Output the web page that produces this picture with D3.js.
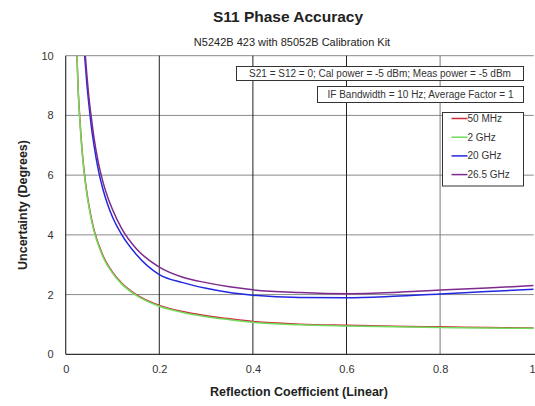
<!DOCTYPE html>
<html><head><meta charset="utf-8">
<script src="https://cdn.jsdelivr.net/npm/d3@7"></script>
<style>
body{margin:0;background:#fff;}
svg{display:block;font-family:"Liberation Sans",Arial,sans-serif;}
</style></head>
<body><svg id="c" width="535" height="406"></svg>
<script>
const title = "S11 Phase Accuracy";
const subtitle = "N5242B 423 with 85052B Calibration Kit";
const xLabel = "Reflection Coefficient (Linear)";
const yLabel = "Uncertainty (Degrees)";
const note1 = "S21 = S12 = 0; Cal power = -5 dBm; Meas power = -5 dBm";
const note2 = "IF Bandwidth = 10 Hz; Average Factor = 1";
const xTicks = [0, 0.2, 0.4, 0.6, 0.8, 1];
const xTickLabels = ["0", "0.2", "0.4", "0.6", "0.8", "1"];
const yTicks = [0, 2, 4, 6, 8, 10];
const yTickLabels = ["0", "2", "4", "6", "8", "10"];
const seriesNames = ["50 MHz", "2 GHz", "20 GHz", "26.5 GHz"];
const seriesColors = ["#d2283c", "#6fdc5a", "#2228e0", "#7d2a8c"];

const xLow = [0.024, 0.027, 0.03, 0.035, 0.04, 0.05, 0.06, 0.07, 0.08, 0.1, 0.12, 0.15, 0.2, 0.25, 0.3, 0.35, 0.4, 0.5, 0.6, 0.7, 0.8, 0.9, 1.0];
const mhz50 = [10.0, 8.75, 7.95, 6.85, 6.05, 4.95, 4.2, 3.69, 3.29, 2.75, 2.38, 2.01, 1.64, 1.43, 1.29, 1.19, 1.1, 1.01, 0.97, 0.94, 0.92, 0.9, 0.88];
const ghz2  = [10.0, 8.7, 7.9, 6.8, 6.0, 4.9, 4.15, 3.65, 3.25, 2.72, 2.35, 1.98, 1.61, 1.4, 1.26, 1.16, 1.07, 0.99, 0.95, 0.92, 0.9, 0.88, 0.87];
const xHigh = [0.0405, 0.045, 0.05, 0.055, 0.06, 0.07, 0.08, 0.09, 0.1, 0.12, 0.15, 0.2, 0.25, 0.3, 0.35, 0.4, 0.5, 0.6, 0.7, 0.8, 0.9, 1.0];
const ghz20 = [10.0, 9.1, 8.3, 7.6, 7.05, 6.15, 5.5, 5.0, 4.6, 4.0, 3.36, 2.67, 2.4, 2.21, 2.07, 1.98, 1.9, 1.89, 1.94, 2.02, 2.1, 2.18];
const xHigh2 = [0.042, 0.045, 0.05, 0.055, 0.06, 0.07, 0.08, 0.09, 0.1, 0.12, 0.15, 0.2, 0.25, 0.3, 0.35, 0.4, 0.5, 0.6, 0.7, 0.8, 0.9, 1.0];
const ghz265 = [10.0, 9.4, 8.55, 7.9, 7.3, 6.4, 5.75, 5.25, 4.85, 4.2, 3.55, 2.92, 2.58, 2.4, 2.26, 2.16, 2.07, 2.03, 2.07, 2.15, 2.22, 2.3];

const series = [
  {name: seriesNames[0], color: seriesColors[0], xs: xLow, ys: mhz50},
  {name: seriesNames[1], color: seriesColors[1], xs: xLow, ys: ghz2},
  {name: seriesNames[2], color: seriesColors[2], xs: xHigh, ys: ghz20},
  {name: seriesNames[3], color: seriesColors[3], xs: xHigh2, ys: ghz265}
];

const svg = d3.select("#c");
const L = 65.7, R = 533.7, T = 55.7, B = 354.3;
const x = d3.scaleLinear().domain([0, 1]).range([L, R]);
const y = d3.scaleLinear().domain([0, 10]).range([B, T]);

svg.append("defs").append("clipPath").attr("id", "clip")
  .append("rect").attr("x", L).attr("y", T).attr("width", R - L).attr("height", B - T);

// horizontal grid
svg.append("g").selectAll("line").data(yTicks.filter(d => d > 0)).join("line")
  .attr("x1", L).attr("x2", R).attr("y1", d => y(d)).attr("y2", d => y(d))
  .attr("stroke", "#8a8a8a").attr("stroke-width", 1);
// vertical grid
svg.append("g").selectAll("line").data(xTicks.filter(d => d > 0 && d < 1)).join("line")
  .attr("x1", d => x(d)).attr("x2", d => x(d)).attr("y1", T).attr("y2", B)
  .attr("stroke", d => d > 0.7 ? "#7a7a7a" : "#222").attr("stroke-width", 1);

// axes lines
svg.append("line").attr("x1", L).attr("x2", L).attr("y1", T).attr("y2", B).attr("stroke", "#333").attr("stroke-width", 1.2);
svg.append("line").attr("x1", L).attr("x2", R + 2).attr("y1", B).attr("y2", B).attr("stroke", "#333").attr("stroke-width", 1.2);

// axes via d3
const xAxis = d3.axisBottom(x).tickValues(xTicks).tickFormat((d, i) => xTickLabels[i]).tickSize(0).tickPadding(11);
const gx = svg.append("g").attr("transform", `translate(0,${B})`).call(xAxis);
gx.select(".domain").remove();
gx.selectAll("text").attr("font-size", 11).attr("fill", "#333").attr("font-family", "Liberation Sans, Arial, sans-serif");
gx.selectAll(".tick").filter(d => d === 1).select("text").attr("text-anchor", "end").attr("dx", 1.5);

const yAxis = d3.axisLeft(y).tickValues(yTicks).tickFormat((d, i) => yTickLabels[i]).tickSize(0).tickPadding(12);
const gy = svg.append("g").attr("transform", `translate(${L},0)`).call(yAxis);
gy.select(".domain").remove();
gy.selectAll("text").attr("font-size", 11).attr("fill", "#333").attr("font-family", "Liberation Sans, Arial, sans-serif");

// curves
const line = d3.line().x(d => x(d[0])).y(d => y(d[1])).curve(d3.curveMonotoneX);
const gc = svg.append("g").attr("clip-path", "url(#clip)");
[0, 1, 2, 3].forEach(i => {
  const s = series[i];
  gc.append("path").datum(s.xs.map((v, k) => [v, s.ys[k]]))
    .attr("d", line).attr("fill", "none").attr("stroke", s.color).attr("stroke-width", 1.5);
});

// titles
svg.append("text").attr("x", 288).attr("y", 22).attr("text-anchor", "middle")
  .attr("font-size", 15.5).attr("font-weight", "bold").attr("fill", "#222").text(title);
svg.append("text").attr("x", 292).attr("y", 46).attr("text-anchor", "middle")
  .attr("font-size", 11).attr("fill", "#222").text(subtitle);
svg.append("text").attr("x", 299).attr("y", 396).attr("text-anchor", "middle")
  .attr("font-size", 12.5).attr("font-weight", "bold").attr("fill", "#222").text(xLabel);
svg.append("text").attr("transform", "translate(27,205) rotate(-90)").attr("text-anchor", "middle")
  .attr("font-size", 12.5).attr("font-weight", "bold").attr("fill", "#222").text(yLabel);

// note boxes
function box(x0, y0, x1, y1, txt) {
  svg.append("rect").attr("x", x0).attr("y", y0).attr("width", x1 - x0).attr("height", y1 - y0)
    .attr("fill", "#fff").attr("stroke", "#333").attr("stroke-width", 1);
  svg.append("text").attr("x", (x0 + x1) / 2).attr("y", (y0 + y1) / 2 + 3.5).attr("text-anchor", "middle")
    .attr("font-size", 10).attr("fill", "#333").text(txt);
}
box(236.5, 66.5, 523.5, 80.5, note1);
box(317.5, 86.5, 523.5, 102.5, note2);

// legend
svg.append("rect").attr("x", 442.5).attr("y", 112.5).attr("width", 81).attr("height", 73.5)
  .attr("fill", "#fff").attr("stroke", "#333").attr("stroke-width", 1);
const lg = svg.append("g").selectAll("g").data(series).join("g")
  .attr("transform", (d, i) => `translate(0,${118.5 + i * 18.7})`);
lg.append("line").attr("x1", 451.5).attr("x2", 467.5).attr("y1", 0).attr("y2", 0)
  .attr("stroke", d => d.color).attr("stroke-width", 1.5);
lg.append("text").attr("x", 467.5).attr("y", 3.5).attr("font-size", 10).attr("fill", "#333").text(d => d.name);
</script></body></html>
